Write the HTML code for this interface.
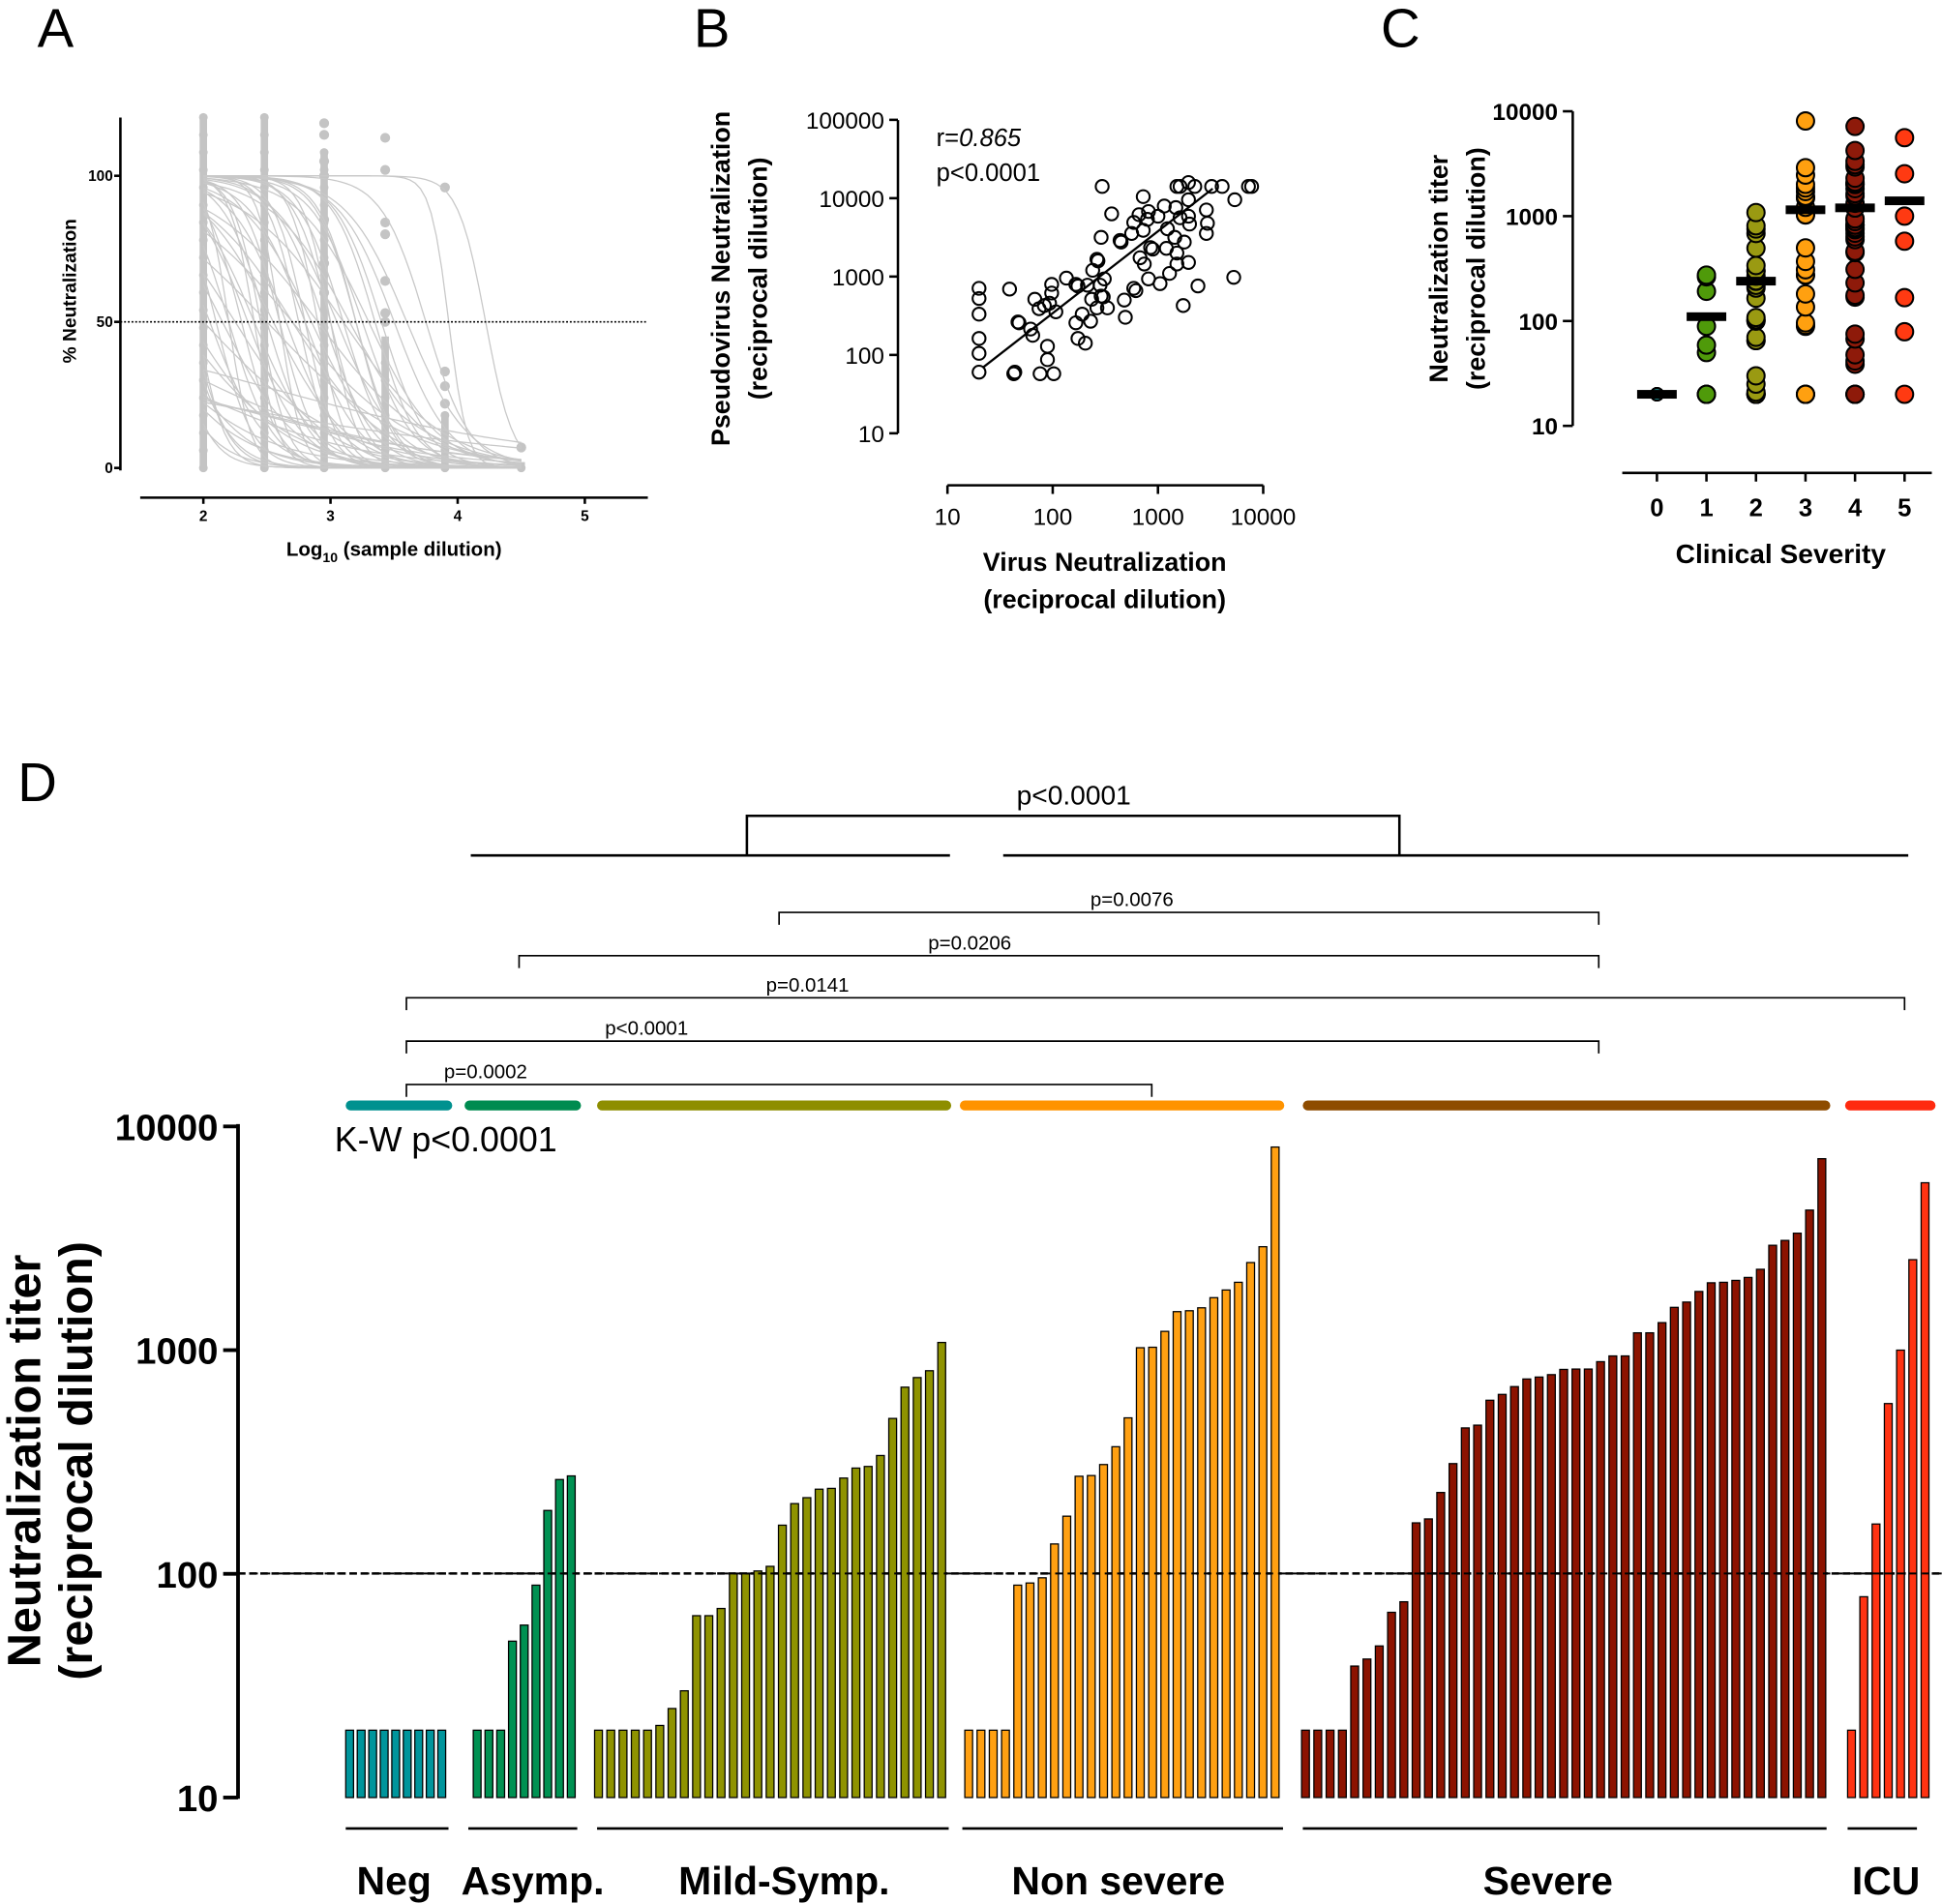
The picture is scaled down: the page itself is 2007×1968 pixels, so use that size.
<!DOCTYPE html>
<html><head><meta charset="utf-8">
<style>
html,body{margin:0;padding:0;background:#fff;}
svg{display:block;font-family:"Liberation Sans",Arial,sans-serif;}
</style></head>
<body>
<svg id="fig" width="2007" height="1968" viewBox="0 0 1568 1538" xmlns="http://www.w3.org/2000/svg">
<rect width="1568" height="1538" fill="#fff"/>
<g id="pa"></g>
<g id="pb"></g>
<g id="pc"></g>
<g id="pd"></g>
<text x="30" y="38" font-size="44">A</text>
<text x="560" y="38" font-size="44">B</text>
<text x="1115" y="38" font-size="44">C</text>
<text x="14" y="647" font-size="44">D</text>
</svg>
<script>
// ---------- Panel D data (also used for C) ----------
const groupNames = ["Neg","Asymp.","Mild-Symp.","Non severe","Severe","ICU"];
const negVals = [20,20,20,20,20,20,20,20,20];
const asympVals = [20,20,20,50,59,89,192,264,274];
const mildVals = [20,20,20,20,20,21,25,30,65,65,70,100,100,103,108,165,206,219,239,241,268,297,302,338,495,683,754,809,1082];
const nonSevVals = [20,20,20,20,89,91,96,136,181,273,275,308,370,498,1025,1030,1213,1486,1500,1546,1716,1857,2010,2463,2899,8088];
const severeVals = [20,20,20,20,38.7,41.6,47.6,67.3,75,169,176,231,311,449,462,597,634,687,743,758,777,820,823,823,888,942,942,1195,1195,1327,1553,1640,1829,2000,2010,2050,2113,2298,2942,3093,3332,4227,7173];
const icuVals = [20,79,167,577,1000,2537,5600];
const dTicks = [10,100,1000,10000];
const dTickLabels = ["10","100","1000","10000"];
const cMedians = [20,110,240,1150,1200,1400];
const cTicks = [10,100,1000,10000];
const cCategories = ["0","1","2","3","4","5"];
// ---------- Panel B data (log10 units) ----------
const virusNeutLog10 = [1.30,1.30,1.30,1.30,1.30,1.30,1.59,1.64,1.63,1.88,2.01,1.68,1.67,1.79,1.81,1.95,1.95,1.83,1.87,1.92,1.99,1.99,1.97,2.03,2.13,2.22,2.24,2.33,2.38,2.42,2.43,2.45,2.46,2.48,2.49,2.37,2.42,2.52,2.36,2.28,2.22,2.24,2.31,2.47,2.56,2.46,2.65,2.64,2.75,2.77,2.82,2.86,2.86,2.91,2.90,3.00,3.06,3.09,3.17,3.21,3.29,3.29,3.30,3.16,3.25,3.18,3.18,3.29,3.11,3.02,2.91,2.83,2.87,2.93,2.95,3.08,2.77,2.79,2.68,2.69,3.24,3.38,3.46,3.47,3.46,3.72,3.73,3.18,3.21,3.29,3.35,3.51,3.61,3.86,3.89];
const pseudoNeutLog10 = [2.85,2.72,2.52,2.21,2.02,1.78,2.84,1.78,1.76,1.76,1.76,2.41,2.42,2.33,2.25,2.11,1.94,2.71,2.59,2.63,2.90,2.79,2.66,2.55,2.98,2.90,2.88,2.89,3.08,3.22,3.20,2.89,2.75,2.74,2.97,2.71,2.60,2.60,2.43,2.52,2.41,2.21,2.15,4.15,3.80,3.50,3.44,3.46,3.55,3.69,3.79,4.02,3.59,3.83,3.73,3.77,3.90,3.61,3.88,3.75,3.98,3.77,3.67,3.50,3.44,3.30,3.16,3.18,3.04,2.91,2.97,3.24,3.16,3.37,3.35,3.36,2.85,2.82,2.70,2.48,2.63,2.88,3.85,3.68,3.55,2.99,3.98,4.15,4.15,4.20,4.15,4.15,4.15,4.15,4.15];
const regIntercept = 0.443, regSlope = 1.045, regRange = [1.34,3.52];
const bYTicks = [10,100,1000,10000,100000];
const bXTicks = [10,100,1000,10000];
// ---------- Panel A data ----------
const curveIC50 = [1.6,1.7,1.75,1.8,1.85,1.9,1.95,2.0,2.05,2.1,2.15,2.2,2.25,2.3,2.35,2.4,2.45,2.5,2.55,2.6,2.65,2.7,2.75,2.8,2.85,2.9,2.95,3.0,3.05,3.1,3.15,3.2,3.25,3.3,3.35,3.4,3.5,3.6,3.75,3.93,4.22,2.0,2.1,2.3,2.5,2.7,2.9,3.1,1.9,2.2,2.4,2.6,2.8,3.0,3.2,1.5,1.4,2.0,2.3,2.8];
const curveHill = [2,1.5,3,1,2.5,1.2,4,0.8,2,3,1.5,2.5,1.2,3,2,1.8,4,2.5,1.5,3,2,1.2,3.5,2,1.6,4,2.2,3,1.8,2.5,1.4,3,2.2,1.6,2.6,2.4,2,1.8,2.5,6,4,0.6,0.7,0.5,0.8,0.9,1.0,1.1,3,5,4.5,5,3.5,4,2.8,1.2,0.9,0.3,0.35,0.6];
const curveTop = [100,100,100,100,100,100,100,100,100,100,100,100,100,100,100,100,100,100,100,100,100,100,100,100,100,100,100,100,100,100,100,100,100,100,100,100,100,100,100,100,100,60,45,40,100,100,100,100,100,100,100,100,100,100,100,100,100,45,60,30];
const colX = [2,2.48,2.95,3.43,3.9,4.5];
const colDenseTop = [120,120,108,45,18,2];
const colExtraDots = [[],[],[118,114,105,100,85,70,60],[113,102,84,80,64,53,50],[96,33,28,22],[7]];
const aYTicks = [0,50,100];
const aXTicks = [2,3,4,5];

const NS="http://www.w3.org/2000/svg";
function mk(parent,tag,attrs,text){const e=document.createElementNS(NS,tag);for(const k in attrs)e.setAttribute(k,attrs[k]);if(text!==undefined)e.textContent=text;parent.appendChild(e);return e;}

// ================= Panel A =================
(function(){
  const g=document.getElementById('pa');
  const xA=v=>164+(v-2)*102.7, yA=v=>378-v*2.36;
  colX.forEach((cx,i)=>{
    const r=mk(g,'rect',{x:xA(cx)-3,y:yA(colDenseTop[i]),width:6,height:yA(0)-yA(colDenseTop[i]),fill:'#c4c4c4'});
    
    
    for(let v=0;v<=colDenseTop[i];v+=6){
      const c=mk(g,'circle',{cx:xA(cx),cy:yA(v),r:3.5,fill:'#c4c4c4'});
      
      
    }
    colExtraDots[i].forEach(v=>{
      const c=mk(g,'circle',{cx:xA(cx),cy:yA(v),r:4,fill:'#c4c4c4'});
      
      
    });
  });
  curveIC50.forEach((ic,i)=>{
    let d='';
    for(let k=0;k<=60;k++){const x=2+2.5*k/60;const y=curveTop[i]/(1+Math.pow(10,(x-ic)*curveHill[i]));d+=(k?'L':'M')+xA(x).toFixed(1)+','+yA(y).toFixed(1);}
    const p=mk(g,'path',{d:d,fill:'none',stroke:'#c8c8c8','stroke-width':1});
    
    
  });
  mk(g,'line',{x1:97,y1:yA(50),x2:523,y2:yA(50),stroke:'#000','stroke-width':1.3,'stroke-dasharray':'1.5,1.5',});
  mk(g,'line',{x1:97,y1:95,x2:97,y2:380,stroke:'#000','stroke-width':2,});
  aYTicks.forEach(t=>{
    const l=mk(g,'line',{x1:92,y1:yA(t),x2:97,y2:yA(t),stroke:'#000','stroke-width':2});
    
    
    const tx=mk(g,'text',{x:91,y:yA(t)+4,'font-size':12,'font-weight':'bold','text-anchor':'end'},String(t));
    
    
  });
  mk(g,'line',{x1:113,y1:402,x2:523,y2:402,stroke:'#000','stroke-width':2,});
  aXTicks.forEach(t=>{
    const l=mk(g,'line',{x1:xA(t),y1:402,x2:xA(t),y2:407,stroke:'#000','stroke-width':2});
    
    
    const tx=mk(g,'text',{x:xA(t),y:421,'font-size':12,'font-weight':'bold','text-anchor':'middle'},String(t));
    
    
  });
  mk(g,'text',{x:61,y:235,'font-size':15,'font-weight':'bold','text-anchor':'middle',transform:'rotate(-90 61 235)',},'% Neutralization');
  const t=mk(g,'text',{x:318,y:449,'font-size':16,'font-weight':'bold','text-anchor':'middle',});
  t.innerHTML='Log<tspan font-size="11" dy="5">10</tspan><tspan dy="-5"> (sample dilution)</tspan>';
})();

// ================= Panel B =================
(function(){
  const g=document.getElementById('pb');
  const xB=l=>765+(l-1)*85, yB=l=>350-(l-1)*63.3;
  mk(g,'line',{x1:725,y1:97,x2:725,y2:350,stroke:'#000','stroke-width':2,});
  bYTicks.forEach(t=>{
    const y=yB(Math.log10(t));
    const l=mk(g,'line',{x1:718,y1:y,x2:725,y2:y,stroke:'#000','stroke-width':2});
    
    
    const tx=mk(g,'text',{x:714,y:y+7,'font-size':19,'text-anchor':'end'},String(t));
    
    
  });
  mk(g,'line',{x1:765,y1:392,x2:1020,y2:392,stroke:'#000','stroke-width':2,});
  bXTicks.forEach(t=>{
    const x=xB(Math.log10(t));
    const l=mk(g,'line',{x1:x,y1:392,x2:x,y2:399,stroke:'#000','stroke-width':2});
    
    
    const tx=mk(g,'text',{x:x,y:424,'font-size':19,'text-anchor':'middle'},String(t));
    
    
  });
  virusNeutLog10.forEach((v,i)=>{
    const c=mk(g,'circle',{cx:xB(v),cy:yB(pseudoNeutLog10[i]),r:5.2,fill:'none',stroke:'#000','stroke-width':1.6});
    
    
  });
  mk(g,'line',{x1:xB(regRange[0]),y1:yB(regIntercept+regSlope*regRange[0]),x2:xB(regRange[1]),y2:yB(regIntercept+regSlope*regRange[1]),stroke:'#000','stroke-width':1.8,});
  const r=mk(g,'text',{x:756,y:118,'font-size':20,});
  r.innerHTML='r=<tspan font-style="italic">0.865</tspan>';
  mk(g,'text',{x:756,y:146,'font-size':20,},'p<0.0001');
  mk(g,'text',{x:589,y:225,'font-size':21,'font-weight':'bold','text-anchor':'middle',transform:'rotate(-90 589 225)',},'Pseudovirus Neutralization');
  mk(g,'text',{x:619,y:225,'font-size':21,'font-weight':'bold','text-anchor':'middle',transform:'rotate(-90 619 225)',},'(reciprocal dilution)');
  mk(g,'text',{x:892,y:461,'font-size':21,'font-weight':'bold','text-anchor':'middle',},'Virus Neutralization');
  mk(g,'text',{x:892,y:491,'font-size':21,'font-weight':'bold','text-anchor':'middle',},'(reciprocal dilution)');
})();

// ================= Panel C =================
const cColors=['#1f8f90','#4f9a0a','#9a9a12','#ffa010','#8e1a0a','#ff3a12'];
(function(){
  const g=document.getElementById('pc');
  const groups=[negVals,asympVals,mildVals,nonSevVals,severeVals,icuVals];
  const xC=i=>1338+i*40, yC=v=>344-(Math.log10(v)-1)*84.7;
  mk(g,'line',{x1:1270,y1:90,x2:1270,y2:344,stroke:'#000','stroke-width':2,});
  cTicks.forEach(t=>{
    const l=mk(g,'line',{x1:1262,y1:yC(t),x2:1270,y2:yC(t),stroke:'#000','stroke-width':2});
    
    
    const tx=mk(g,'text',{x:1258,y:yC(t)+7,'font-size':19,'font-weight':'bold','text-anchor':'end'},String(t));
    
    
  });
  mk(g,'line',{x1:1310,y1:382,x2:1560,y2:382,stroke:'#000','stroke-width':2,});
  cCategories.forEach((c,i)=>{
    const l=mk(g,'line',{x1:xC(i),y1:382,x2:xC(i),y2:389,stroke:'#000','stroke-width':2});
    
    
    const tx=mk(g,'text',{x:xC(i),y:417,'font-size':20,'font-weight':'bold','text-anchor':'middle'},c);
    
    
  });
  groups.forEach((arr,i)=>{
    arr.forEach(v=>{
      const c=mk(g,'circle',{cx:xC(i),cy:yC(v),r:i===0?5:7,fill:cColors[i],stroke:'#000','stroke-width':1.6});
      
      
    });
    const m=mk(g,'rect',{x:xC(i)-16,y:yC(cMedians[i])-3.5,width:32,height:7,fill:'#000'});
    
    
  });
  mk(g,'text',{x:1169,y:217,'font-size':21,'font-weight':'bold','text-anchor':'middle',transform:'rotate(-90 1169 217)',},'Neutralization titer');
  mk(g,'text',{x:1199,y:217,'font-size':21,'font-weight':'bold','text-anchor':'middle',transform:'rotate(-90 1199 217)',},'(reciprocal dilution)');
  mk(g,'text',{x:1438,y:455,'font-size':22,'font-weight':'bold','text-anchor':'middle',},'Clinical Severity');
})();

// ================= Panel D =================
(function(){
  const g=document.getElementById('pd');
  const groups=[negVals,asympVals,mildVals,nonSevVals,severeVals,icuVals];
  const starts=[279,382,480,779,1051,1492];
  const pitches=[9.3,9.5,9.9,9.9,9.93,9.9];
  const fills=['#00959c','#009152','#8f9300','#ffa012','#8c1300','#ff3312'];
  const topColors=['#00918f','#008b50','#8e8e00','#ff9300','#8e4c00','#ff2a10'];
  const topBars=[[279,365],[375,469],[482,768],[775,1037],[1052,1478],[1490,1563]];
  const underlines=[[279,362],[378,466],[482,766],[777,1036],[1052,1475],[1492,1548]];
  const labelX=[318,430,633,903,1250,1523];
  const yD=v=>1452-(Math.log10(v)-1)*180.7;
  mk(g,'line',{x1:192,y1:1271,x2:1568,y2:1271,stroke:'#000','stroke-width':2,'stroke-dasharray':'6,3',});
  groups.forEach((arr,gi)=>{
    arr.forEach((v,i)=>{
      const x=starts[gi]+i*pitches[gi];
      const r=mk(g,'rect',{x:x,y:yD(v),width:6.3,height:1452-yD(v),fill:fills[gi],stroke:'#000','stroke-width':1});
      
      
    });
    const tb=mk(g,'line',{x1:topBars[gi][0]+4,y1:893,x2:topBars[gi][1]-4,y2:893,stroke:topColors[gi],'stroke-width':8,'stroke-linecap':'round'});
    
    
    const ul=mk(g,'line',{x1:underlines[gi][0],y1:1477,x2:underlines[gi][1],y2:1477,stroke:'#000','stroke-width':2});
    
    
    const lb=mk(g,'text',{x:labelX[gi],y:1530,'font-size':32,'font-weight':'bold','text-anchor':'middle'},groupNames[gi]);
    
    
  });
  mk(g,'line',{x1:192,y1:1271,x2:1568,y2:1271,stroke:'#000','stroke-width':1.6,'stroke-dasharray':'6,4',});
  mk(g,'line',{x1:192,y1:908,x2:192,y2:1453,stroke:'#000','stroke-width':3,});
  dTicks.forEach((t,i)=>{
    const l=mk(g,'line',{x1:180,y1:yD(t),x2:192,y2:yD(t),stroke:'#000','stroke-width':3});
    
    
    const tx=mk(g,'text',{x:176,y:yD(t)+11,'font-size':30,'font-weight':'bold','text-anchor':'end'},dTickLabels[i]);
    
    
  });
  mk(g,'text',{x:32,y:1180,'font-size':38,'font-weight':'bold','text-anchor':'middle',transform:'rotate(-90 32 1180)',},'Neutralization titer');
  mk(g,'text',{x:74,y:1180,'font-size':38,'font-weight':'bold','text-anchor':'middle',transform:'rotate(-90 74 1180)',},'(reciprocal dilution)');
  mk(g,'text',{x:270,y:930,'font-size':28,},'K-W p<0.0001');
  mk(g,'path',{d:'M380,691H767M810,691H1541M603,691V659H1130V691',fill:'none',stroke:'#000','stroke-width':2,});
  mk(g,'text',{x:867,y:650,'font-size':22,'text-anchor':'middle',},'p<0.0001');
  const brackets=[[629,1291,737,'p=0.0076',914],[419,1291,772,'p=0.0206',783],[328,1538,806,'p=0.0141',652],[328,1291,841,'p<0.0001',522],[328,930,876,'p=0.0002',392]];
  brackets.forEach(b=>{
    const p=mk(g,'path',{d:`M${b[0]},${b[2]+10}V${b[2]}H${b[1]}V${b[2]+10}`,fill:'none',stroke:'#000','stroke-width':1.3});
    
    
    const t=mk(g,'text',{x:b[4],y:b[2]-5,'font-size':16,'text-anchor':'middle'},b[3]);
    
    
  });
})();
</script>
</body></html>
